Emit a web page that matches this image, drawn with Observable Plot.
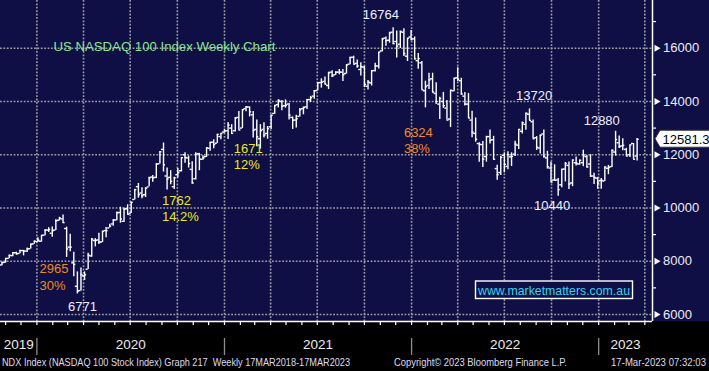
<!DOCTYPE html>
<html><head><meta charset="utf-8">
<script src="https://cdn.jsdelivr.net/npm/d3@7"></script>
<script src="https://cdn.jsdelivr.net/npm/@observablehq/plot@0.6"></script>
<style>
html,body{margin:0;padding:0;background:#000;}
#chart{width:709px;height:371px;overflow:hidden;position:relative;
  background:linear-gradient(to bottom,#0f0f46 0px,#0f0f46 321px,#000 321px,#000 100%);}
#chart svg{display:block;}
</style></head><body><div id="chart"></div>
<script>
// ---- data: weekly OHLC of NDX, weeks ending Friday 25-Oct-2019 .. 17-Mar-2023 ----
const firstWeek = "2019-10-25";
const lastWeek = "2023-03-17";
const open = [
  7860,7960,8110,8210,8320,8290,8400,8380,8470,8650,
  8740,8750,8980,9170,9050,9170,9540,9590,9230,8530,7940,7060,6900,7450,7700,8200,8780,8800,8720,9150,9250,9400,9550,9830,9500,9970,9800,10320,10800,10560,10500,10790,11160,11150,11660,12200,11200,11150,10800,11250,11400,12000,11880,11450,11100,12040,11830,11930,12240,12470,12430,12680,12850,
  12900,13000,12900,13400,13000,13730,13790,13500,12950,12600,12950,12800,13050,13550,13880,14000,13840,13900,13400,13300,13440,13730,13800,14070,14200,14410,14710,14750,14600,15100,15000,15100,15100,15050,15400,15660,15430,15200,15290,14570,14700,15160,15330,15900,16380,16300,16600,16250,16150,16600,15700,16420,
  16350,15530,15450,14400,14600,14850,14300,13900,14000,13750,13340,14400,14890,14780,14200,13900,13300,12800,12420,12380,11930,12680,12560,11480,11330,11980,11560,11920,12020,12360,12880,13140,13520,13240,12640,12250,12780,11880,11500,11050,11050,10870,11460,11600,10940,11700,11650,11700,11930,11650,11200,11120,
  11030,11010,11490,11550,12100,12450,12330,12200,12000,12420,11950
];
const high = [
  7970,8110,8230,8320,8340,8410,8410,8500,8650,8760,
  8880,8970,9180,9260,9290,9560,9650,9736,9280,9010,8340,7600,7750,7600,8300,8850,8850,9050,9130,9270,9390,9560,9850,10030,10000,10120,10220,10690,10920,10760,10760,11150,11220,11660,12110,12439,11500,11400,11150,11480,11890,12070,11950,11740,12070,12050,11960,12260,12470,12560,12770,12800,12960,
  13210,13130,13400,13620,13700,13810,13800,13620,13300,13130,13200,13060,13490,13850,14060,14040,14060,13920,13420,13480,13740,13790,14070,14190,14410,14700,14850,14920,15100,15150,15120,15200,15200,15380,15660,15700,15560,15450,15320,14790,15160,15430,15850,16370,16420,16600,16764,16650,16640,16730,16370,16660,
  16420,15800,15500,14760,15060,15060,14700,14160,14340,14040,14420,14870,15270,14870,14340,14300,13630,13380,12450,12500,12690,12930,12690,11600,11930,12070,12110,12070,12510,12950,13230,13560,13720,13300,12680,12740,12930,12130,11730,11620,11110,11450,11710,11730,11800,11910,11800,12170,11970,12000,11300,11150,
  11110,11540,11600,12170,12880,12700,12600,12240,12360,12420,12610
];
const low = [
  7830,7930,8090,8170,8230,8280,8200,8330,8460,8640,
  8700,8720,8960,9080,8900,9150,9510,9430,8140,8360,7420,6771,6880,7280,7690,8150,8540,8630,8700,8880,9250,9310,9520,9430,9450,9750,9790,10300,10370,10350,10390,10800,10970,11100,11650,11350,10677,10870,10690,11130,11350,11680,11500,10900,11050,11400,11790,11900,12130,12220,12420,12560,12810,
  12570,12760,12850,12930,12980,13610,13420,12630,12300,12210,12630,12580,12950,13520,13760,13650,13750,13300,12950,13000,13420,13500,13700,13960,14080,14400,14500,14640,14450,14900,14980,15000,14750,15030,15380,15400,15250,14960,14520,14430,14580,15110,15220,15860,16070,16190,16150,15630,15990,15690,15500,16310,
  15560,15210,14440,13760,14450,14330,13890,13320,13740,13300,13020,14360,14750,14240,13830,13370,12640,12470,11720,11520,11720,12400,11800,11040,11220,11320,11440,11560,11930,12200,12780,12920,13280,12600,12160,12030,11880,11460,10970,11030,10440,10760,10980,10690,10800,11580,11600,11550,11500,11150,10880,10700,
  10700,10990,11250,11520,11950,12230,12150,11950,11900,11830,11760
];
const close = [
  7950,8100,8220,8320,8280,8400,8380,8460,8640,8750,
  8790,8970,9170,9190,9150,9520,9620,9450,8460,8530,7880,6880,7500,7490,8230,8830,8780,8720,9120,9150,9320,9550,9820,9590,9950,9760,10210,10690,10500,10460,10740,11130,11130,11650,12110,11620,11090,11000,11130,11330,11890,11900,11670,10940,12020,11830,11880,12260,12460,12380,12760,12800,12890,
  13110,12800,13370,12930,13690,13800,13610,12910,12670,12900,12740,12980,13480,13850,14040,13820,13860,13490,13300,13350,13690,13770,14070,14140,14400,14700,14720,14650,15070,14960,15100,15100,15000,15370,15650,15400,15330,15310,14640,14730,15150,15340,15850,16350,16280,16570,16170,16080,16630,15800,16370,16320,
  15600,15610,14440,14550,14810,14350,14000,14110,13840,13300,14420,14870,14840,14280,13900,13380,12850,12580,12390,11830,12680,12540,11830,11250,11900,11640,12000,11940,12400,12950,13200,13560,13290,12600,12280,12730,11930,11550,10970,11040,10690,11450,11670,10900,11800,11680,11790,11990,11540,11200,11150,10940,
  11040,11540,11520,12170,12570,12300,12350,11950,12370,11830,12580
];
const lastPrice = 12581.39;
const yTicks = [6000, 8000, 10000, 12000, 14000, 16000];
const yMinorTicks = [7000, 9000, 11000, 13000, 15000, 17000];
const years = [2019, 2020, 2021, 2022, 2023];
const titleText = "US NASDAQ 100 Index Weekly Chart";
// annotation labels: [text, date, value]
const whiteLabels = [["16764","2021-11-02",17261],["13720","2022-08-28",14193],["12880","2023-01-07",13255],["10440","2022-10-02",10063],["6771","2020-03-30",6270]];
const orangeLabels = [["2965","2020-01-06",7709],["30%","2020-01-06",7085],["6324","2021-12-17",12815],["38%","2021-12-17",12230]];
const yellowLabels = [["1762","2020-09-01",10251],["14.2%","2020-09-01",9661],["1671","2021-01-19",12203],["12%","2021-01-19",11603]];
const footerLeft = "NDX Index (NASDAQ 100 Stock Index) Graph 217  Weekly 17MAR2018-17MAR2023";
const footerCopy = "Copyright\u00A9 2023 Bloomberg Finance L.P.";
const footerStamp = "17-Mar-2023 07:32:03";
const website = "www.marketmatters.com.au";

// ---- build ----
const parse = d3.utcParse("%Y-%m-%d");
const dates = d3.utcFriday.range(parse(firstWeek), d3.utcDay.offset(parse(lastWeek), 1));
const bars = dates.map((date, i) => ({date, open: open[i], high: high[i], low: low[i], close: close[i]}));
const xDomain = [parse("2019-10-22"), parse("2023-04-16")];
const yDomain = [5737, 17791];
const navy = "#0f0f46";
const grid = "#9c9ca6";
const quarterStarts = d3.utcMonth.every(3).range(xDomain[0], xDomain[1]);
const monthStarts = d3.utcMonth.range(xDomain[0], xDomain[1]);
const yearStarts = years.map(y => new Date(Date.UTC(y, 0, 1))).filter(d => d > xDomain[0]);
const yearMid = y => {
  const a = Math.max(Date.UTC(y, 0, 1), +xDomain[0]);
  const b = Math.min(Date.UTC(y + 1, 0, 1), +xDomain[1]);
  return new Date((a + b) / 2);
};
const lab = arr => arr.map(([t, d, v]) => ({t, d: parse(d), v}));
const font = "'Liberation Sans', Arial, sans-serif";

const chart = Plot.plot({
  width: 709, height: 371,
  marginLeft: 0, marginRight: 57, marginTop: 0, marginBottom: 50,
  style: {background: "transparent", fontFamily: font, overflow: "hidden"},
  x: {type: "utc", domain: xDomain, axis: null},
  y: {domain: yDomain, axis: null},
  marks: [
    Plot.ruleY(yTicks, {stroke: grid, strokeWidth: 1.6, strokeDasharray: "1.8,1.6"}),
    Plot.ruleX(quarterStarts, {stroke: grid, strokeWidth: 1.6, strokeDasharray: "1.8,1.6"}),
    // OHLC bars
    Plot.ruleX(bars, {x: "date", y1: "low", y2: "high", stroke: "white", strokeWidth: 1.4}),
    Plot.ruleY(bars, {y: "open", x1: d => d3.utcDay.offset(d.date, -4), x2: "date", stroke: "white", strokeWidth: 1.4}),
    Plot.ruleY(bars, {y: "close", x1: "date", x2: d => d3.utcDay.offset(d.date, 4), stroke: "white", strokeWidth: 1.4}),
    // axes lines
    Plot.ruleY([yDomain[0]], {stroke: "white", strokeWidth: 1.5}),
    Plot.ruleX([xDomain[1]], {stroke: "white", strokeWidth: 1.5}),
    Plot.ruleY(yMinorTicks, {stroke: "white", strokeWidth: 1.2, insetLeft: 652, insetRight: -4}),
    Plot.ruleX(monthStarts, {stroke: "white", strokeWidth: 1.2, insetTop: 321, insetBottom: -4}),
    Plot.dot(yTicks, {x: () => xDomain[1], y: d => d, symbol: "triangle", rotate: 90, r: 2.6, fill: "white", stroke: "none", dx: 4}),
    Plot.text(yTicks, {x: () => xDomain[1], y: d => d, text: d => String(d), dx: 10.5, textAnchor: "start", fill: "#ececf6", fontSize: 13}),
    // year separators and labels
    Plot.ruleX(yearStarts, {stroke: "#8c8c8c", strokeWidth: 1.3, insetTop: 338, insetBottom: -34}),
    Plot.text(years, {x: d => yearMid(d), frameAnchor: "bottom", dy: 27, text: d => String(d), fill: "#ececec", fontSize: 13.5}),
    // title
    Plot.text([titleText], {frameAnchor: "top-left", dx: 53, dy: 41.5, text: d => d, textAnchor: "start", fill: "#8ae68a", fontSize: 13.2}),
    // annotations
    Plot.text(lab(whiteLabels), {x: "d", y: "v", text: "t", fill: "#eeeeff", fontSize: 13}),
    Plot.text(lab(orangeLabels), {x: "d", y: "v", text: "t", fill: "#f08a1e", fontSize: 13, textAnchor: "start"}),
    Plot.text(lab(yellowLabels), {x: "d", y: "v", text: "t", fill: "#e8e824", fontSize: 13, textAnchor: "start"}),
    // last price tag
    (index, {x, y}) => {
      const px = x(xDomain[1]), py = y(lastPrice);
      const g = d3.create("svg:g");
      g.append("path")
        .attr("d", `M${px + 3},${py} L${px + 8},${py - 8.5} H${px + 70} V${py + 8.5} H${px + 8} Z`)
        .attr("fill", "white").attr("stroke", "#333").attr("stroke-width", 1);
      g.append("text").attr("x", px + 10.5).attr("y", py + 5.2).attr("text-anchor", "start")
        .attr("font-size", 13).attr("font-family", font).attr("fill", "#000")
        .text(lastPrice.toFixed(2));
      return g.node();
    },
    // website box
    () => {
      const g = d3.create("svg:g");
      g.append("rect").attr("x", 475.5).attr("y", 281).attr("width", 157).attr("height", 17.5)
        .attr("fill", navy).attr("stroke", "white").attr("stroke-width", 1.4);
      g.append("text").attr("x", 554).attr("y", 294.5).attr("text-anchor", "middle")
        .attr("font-size", 12.6).attr("font-family", font).attr("fill", "#33d4f2")
        .attr("textLength", 152).attr("lengthAdjust", "spacingAndGlyphs")
        .text(website);
      return g.node();
    },
    // footer
    () => {
      const g = d3.create("svg:g").attr("font-family", font).attr("font-size", 10.5)
        .attr("fill", "#dcdcf0").attr("text-anchor", "start");
      const items = [[footerLeft, 2, 348], [footerCopy, 394, 173], [footerStamp, 611, 95]];
      for (const [t, x0, w] of items) {
        g.append("text").attr("x", x0).attr("y", 366).attr("text-anchor", "start").attr("textLength", w)
          .attr("lengthAdjust", "spacingAndGlyphs").attr("xml:space", "preserve").style("white-space", "pre").text(t);
      }
      return g.node();
    }
  ]
});
document.getElementById("chart").append(chart);
</script>
</body></html>
